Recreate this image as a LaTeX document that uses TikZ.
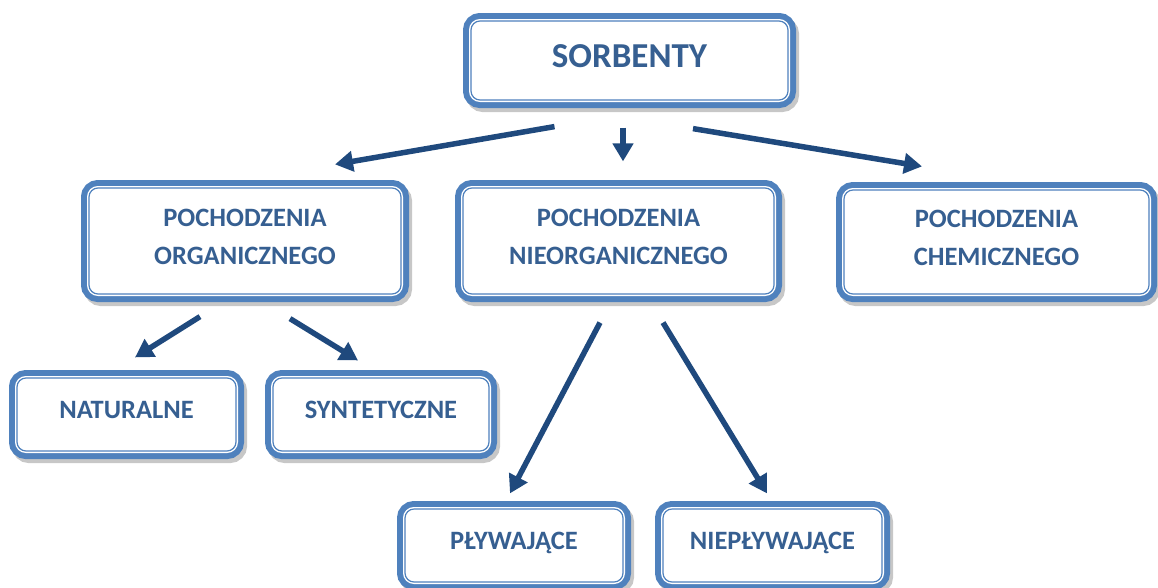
\documentclass[tikz,border=0pt]{standalone}
\usepackage{fontspec}
\setmainfont{Carlito}
\usetikzlibrary{positioning,calc,arrows.meta}
\definecolor{boxblue}{HTML}{4F81BD}
\definecolor{txtblue}{HTML}{365F91}
\definecolor{arrblue}{HTML}{1F497D}
\tikzset{
  bx/.style={rectangle, rounded corners=9pt, text centered, align=center, text=txtblue, text depth=9pt, font=\bfseries\fontsize{26.5}{38}\selectfont, fill=white, draw=boxblue, line width=1.2pt,
    preaction={draw=black!22, line width=16pt, transform canvas={shift={(3pt,-4pt)}}},
    preaction={draw=boxblue, line width=16pt},
    preaction={draw=white, line width=4pt}},
  hd/.style={bx, minimum width=317pt, minimum height=79pt, font=\bfseries\fontsize{35}{42}\selectfont},
  ct/.style={bx, minimum width=312pt, minimum height=106pt},
  lf/.style={bx, minimum width=218pt, minimum height=73pt},
  ln/.style={-{Triangle[length=18pt,width=20pt]}, line width=5.5pt, draw=arrblue}
}

\begin{document}
\begin{tikzpicture}[x=1pt, y=-1pt]
	\useasboundingbox (0,0) rectangle (1158,587);
	\clip (0,0) rectangle (1158,587);
	\node[hd] (sorb) at (629.5,60.5) {SORBENTY};
	\node[ct] (org) at (245,241) {POCHODZENIA\\ORGANICZNEGO};
	\node[ct, minimum width=311pt] (nieorg) at (618.5,241) {POCHODZENIA\\NIEORGANICZNEGO};
	\node[ct, minimum width=305pt, minimum height=104pt] (chem) at (996.5,242) {POCHODZENIA\\CHEMICZNEGO};
	\node[lf, minimum width=219pt] (nat) at (126.5,414.5) {NATURALNE};
	\node[lf, minimum width=216pt] (syn) at (381,414.5) {SYNTETYCZNE};
	\node[lf] (plyw) at (514,545.5) {PŁYWAJĄCE};
	\node[lf, minimum width=219pt] (nplyw) at (772.5,545.5) {NIEPŁYWAJĄCE};
	\draw[ln] ($(sorb.south)+(-75,26)$) -- ($(org.north)+(90,-23)$);
	\draw[ln] ($(sorb.south)+(-6.5,27)$) -- ($(nieorg.north)+(4.5,-26)$);
	\draw[ln] ($(sorb.south)+(63.5,28)$) -- ($(chem.north)+(-74.5,-23)$);
	\draw[ln] ($(org.south)+(-45,22)$) -- ($(nat.north)+(8.5,-20)$);
	\draw[ln] ($(org.south)+(45,24)$) -- ($(syn.north)+(-23,-17)$);
	\draw[ln] ($(nieorg.south)+(-18.5,28)$) -- ($(plyw.north)+(-4,-15)$);
	\draw[ln] ($(nieorg.south)+(44.5,28)$) -- ($(nplyw.north)+(-5.5,-15)$);
\end{tikzpicture}
\end{document}
